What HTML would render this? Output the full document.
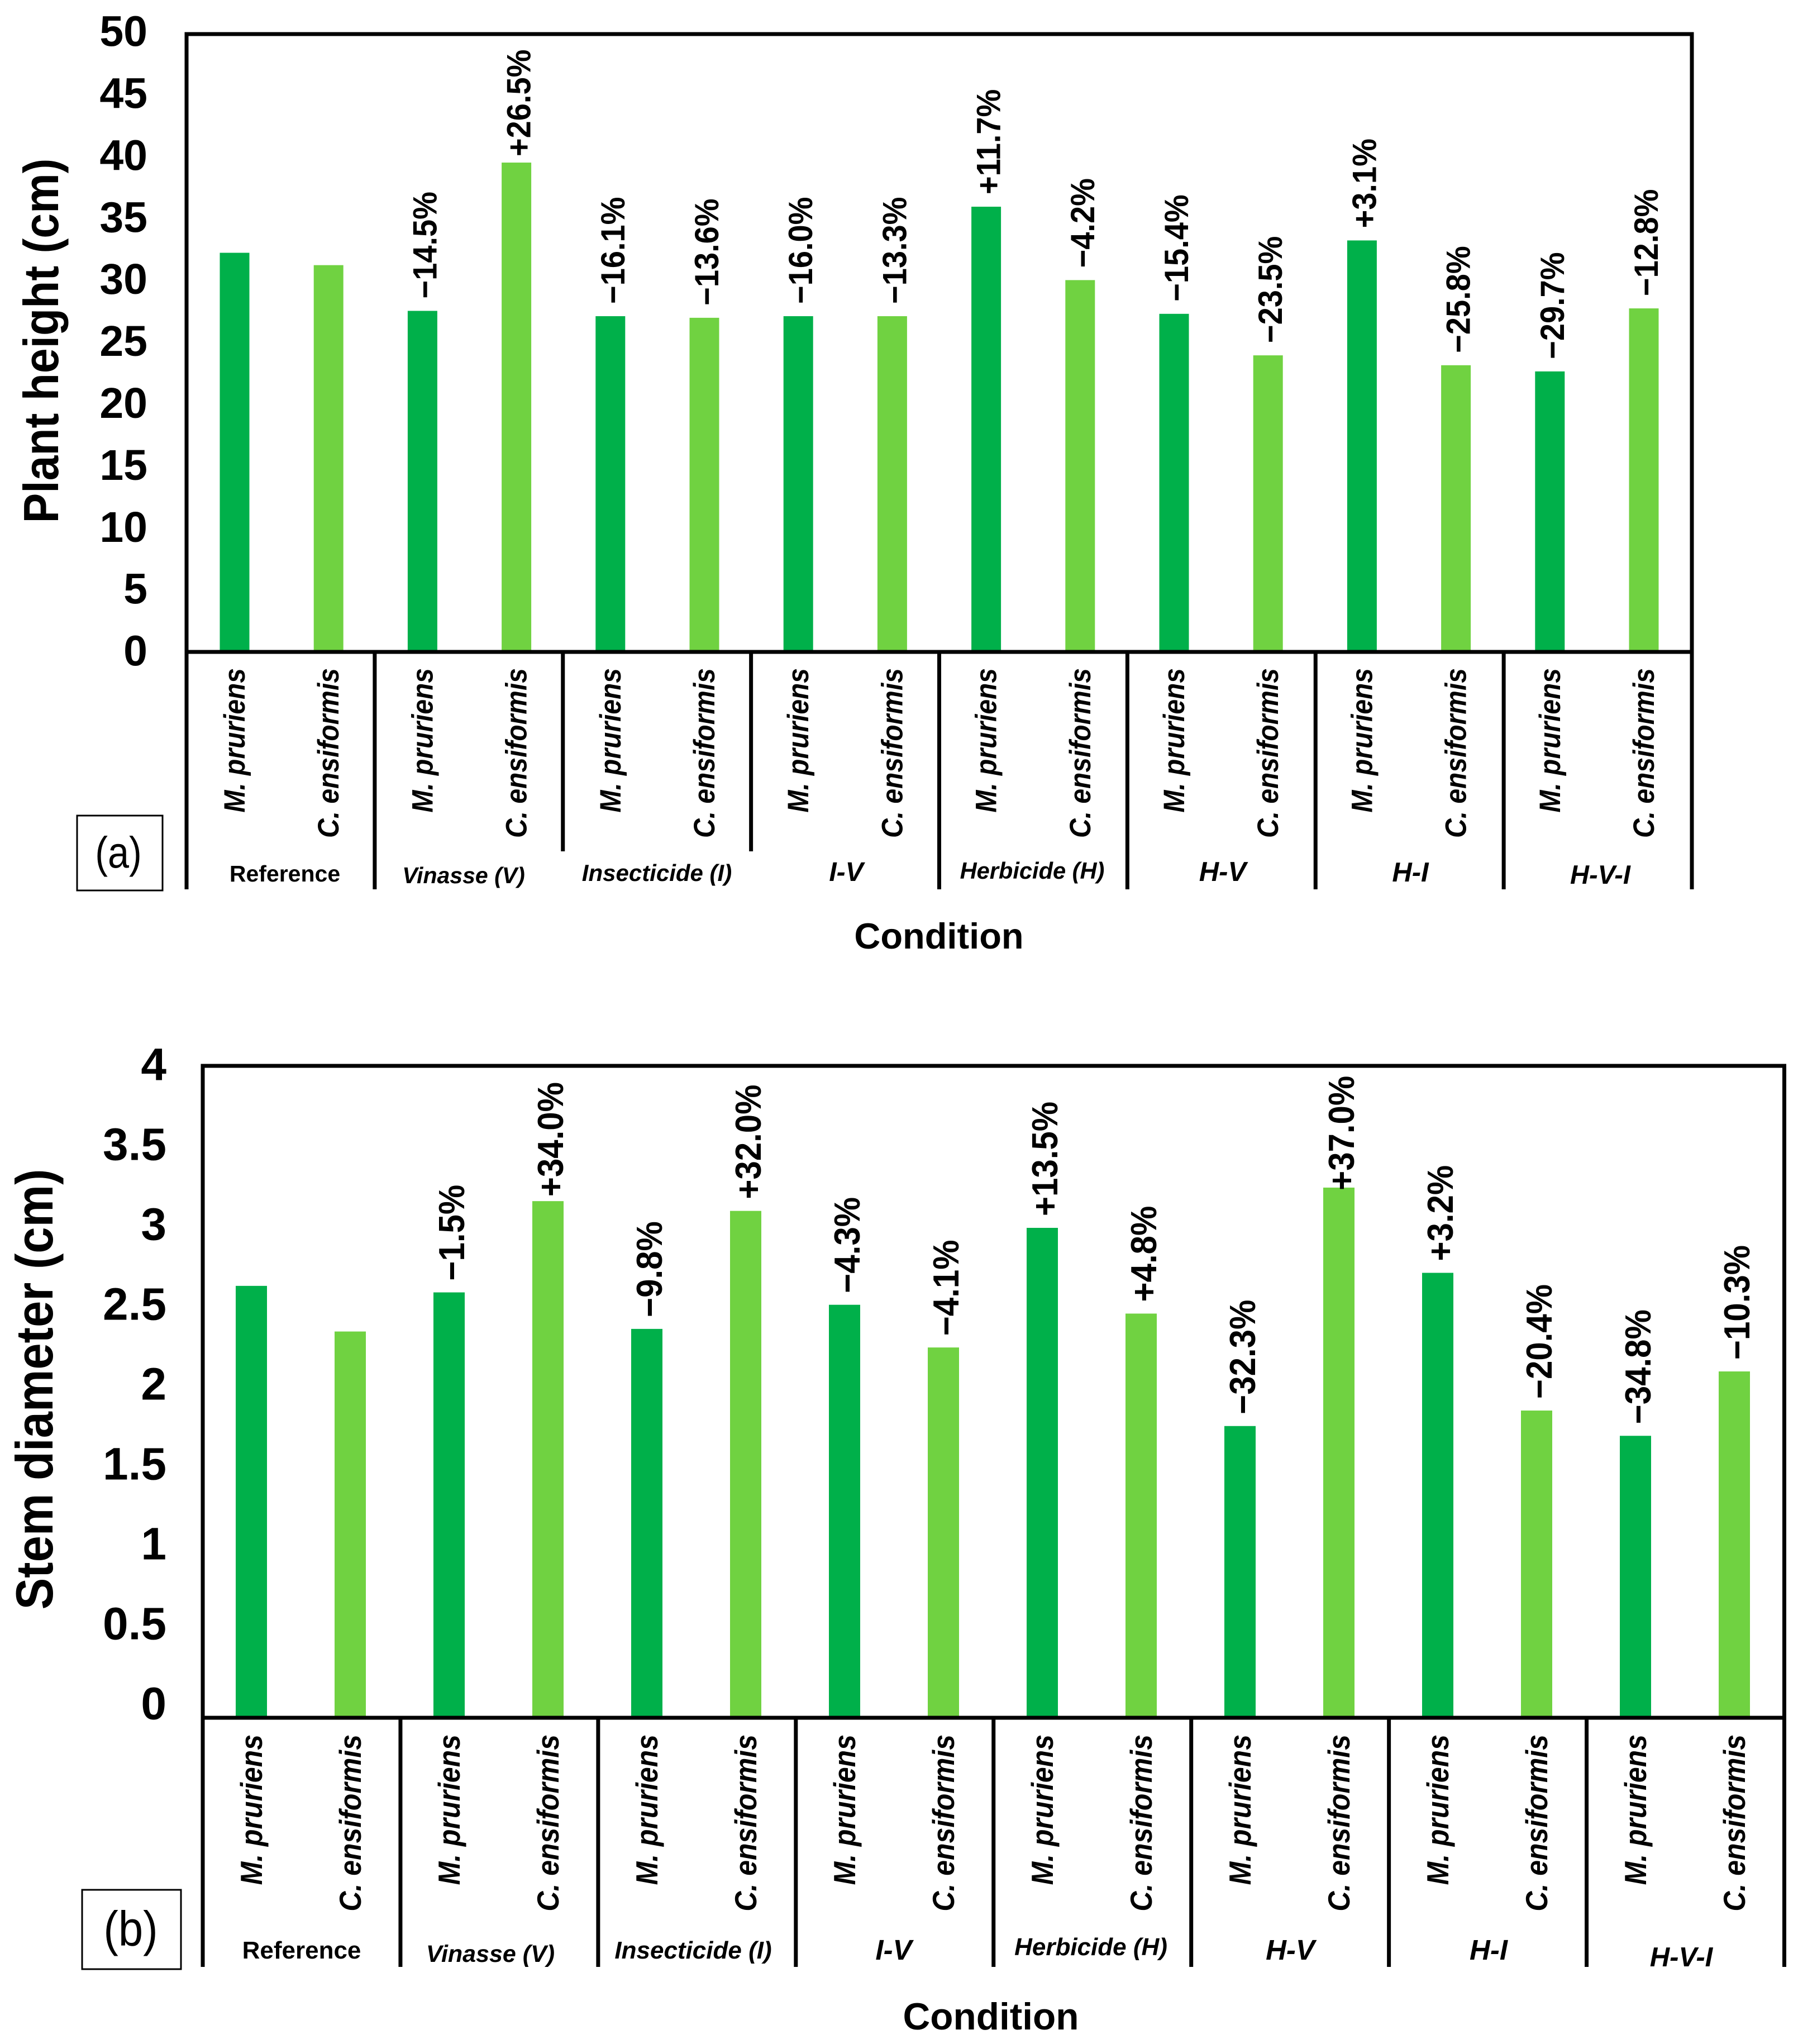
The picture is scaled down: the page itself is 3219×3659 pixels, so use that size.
<!DOCTYPE html>
<html lang="en">
<head>
<meta charset="utf-8">
<title>Plant height and stem diameter by condition</title>
<style>
html,body{margin:0;padding:0;background:#fff;}
svg{display:block;font-family:"Liberation Sans",Arial,sans-serif;}
text{fill:#000;}
.b{font-weight:700;}
.bi{font-weight:700;font-style:italic;}
</style>
</head>
<body>
<svg id="figure" xmlns="http://www.w3.org/2000/svg" width="3219" height="3659" viewBox="0 0 3219 3659">
  <rect x="0" y="0" width="3219" height="3659" fill="#fff"/>
  <g id="chart-a"></g>
  <g id="chart-b"></g>

  <text class="b" font-size="80.5" transform="translate(104,610) rotate(-90) scale(1,1.1)" text-anchor="middle">Plant height (cm)</text>
  <text class="b" font-size="85" transform="translate(94,2487) rotate(-90) scale(1,1.1)" text-anchor="middle">Stem diameter (cm)</text>

  <text class="b" font-size="65" x="1681" y="1698" text-anchor="middle">Condition</text>
  <text class="b" font-size="67.5" x="1774" y="3633" text-anchor="middle">Condition</text>

  <g>
    <text class="b" font-size="41" x="510" y="1578" text-anchor="middle">Reference</text>
    <text class="bi" font-size="41" x="830" y="1581" text-anchor="middle">Vinasse (V)</text>
    <text class="bi" font-size="42" x="1176" y="1577" text-anchor="middle">Insecticide (I)</text>
    <text class="bi" font-size="48" x="1515" y="1577" text-anchor="middle">I-V</text>
    <text class="bi" font-size="41.6" x="1848" y="1573" text-anchor="middle">Herbicide (H)</text>
    <text class="bi" font-size="49" x="2189" y="1577" text-anchor="middle">H-V</text>
    <text class="bi" font-size="49" x="2525" y="1578" text-anchor="middle">H-I</text>
    <text class="bi" font-size="47" x="2865" y="1582" text-anchor="middle">H-V-I</text>
  </g>
  <g>
    <text class="b" font-size="44" x="540" y="3506" text-anchor="middle">Reference</text>
    <text class="bi" font-size="43" x="878" y="3512" text-anchor="middle">Vinasse (V)</text>
    <text class="bi" font-size="44" x="1241" y="3506" text-anchor="middle">Insecticide (I)</text>
    <text class="bi" font-size="51" x="1600" y="3508" text-anchor="middle">I-V</text>
    <text class="bi" font-size="44" x="1953" y="3500" text-anchor="middle">Herbicide (H)</text>
    <text class="bi" font-size="51" x="2310" y="3508" text-anchor="middle">H-V</text>
    <text class="bi" font-size="51" x="2665" y="3508" text-anchor="middle">H-I</text>
    <text class="bi" font-size="49" x="3010" y="3520" text-anchor="middle">H-V-I</text>
  </g>

  <g>
    <rect x="138" y="1460" width="153" height="134" fill="#fff" stroke="#000" stroke-width="3"/>
    <text font-size="72" transform="translate(212,1553) scale(0.95,1.1)" text-anchor="middle">(a)</text>
  </g>
  <g>
    <rect x="147" y="3383" width="177" height="142" fill="#fff" stroke="#000" stroke-width="3"/>
    <text font-size="82" transform="translate(234,3483) scale(0.97,1.08)" text-anchor="middle">(b)</text>
  </g>
</svg>

<script>
// Shared categories
const species = ['M. pruriens', 'C. ensiformis'];

// Panel (a): plant height, cm
const heightTicks = ['0', '5', '10', '15', '20', '25', '30', '35', '40', '45', '50'];
const heightMucuna = [32.3, 27.6, 27.17, 27.17, 36.03, 27.36, 33.3, 22.7];
const heightCanavalia = [31.3, 39.6, 27.04, 27.17, 30.09, 24.0, 23.2, 27.8];
const heightMucunaPct = ['', '\u221214.5%', '\u221216.1%', '\u221216.0%', '+11.7%', '\u221215.4%', '+3.1%', '\u221229.7%'];
const heightCanavaliaPct = ['', '+26.5%', '\u221213.6%', '\u221213.3%', '\u22124.2%', '\u221223.5%', '\u221225.8%', '\u221212.8%'];

// Panel (b): stem diameter, cm
const diameterTicks = ['0', '0.5', '1', '1.5', '2', '2.5', '3', '3.5', '4'];
const diameterMucuna = [2.65, 2.61, 2.386, 2.534, 3.006, 1.79, 2.73, 1.73];
const diameterCanavalia = [2.37, 3.17, 3.11, 2.272, 2.48, 3.253, 1.885, 2.125];
const diameterMucunaPct = ['', '\u22121.5%', '\u22129.8%', '\u22124.3%', '+13.5%', '\u221232.3%', '+3.2%', '\u221234.8%'];
const diameterCanavaliaPct = ['', '+34.0%', '+32.0%', '\u22124.1%', '+4.8%', '+37.0%', '\u221220.4%', '\u221210.3%'];

const NS = 'http://www.w3.org/2000/svg';
const DARK = '#00B04A';
const LIGHT = '#70D241';

function make(parent, tag, attrs, content) {
  const el = document.createElementNS(NS, tag);
  Object.keys(attrs).forEach(function (k) { el.setAttribute(k, attrs[k]); });
  if (content !== undefined) el.textContent = content;
  parent.appendChild(el);
  return el;
}

function drawChart(root, cfg) {
  const slotX = function (g, s) { return cfg.firstBar + cfg.barStep * (2 * g + s); };
  const valueY = function (v) { return cfg.baseY - (v / cfg.yMax) * (cfg.baseY - cfg.topY); };
  const tickY = function (v) { return cfg.tickZero - (v / cfg.yMax) * (cfg.tickZero - cfg.tickTop); };
  const groupX = function (g) { return cfg.left + g * (cfg.right - cfg.left) / 8; };

  // Bars
  [cfg.mucuna, cfg.canavalia].forEach(function (series, s) {
    series.forEach(function (v, g) {
      const bar = make(root, 'rect', {
        x: slotX(g, s) - cfg.barW / 2,
        y: valueY(v),
        width: cfg.barW,
        height: cfg.baseY - valueY(v),
        fill: s === 0 ? DARK : LIGHT
      });
      
      
    });
  });

  // Frame
  const frame = make(root, 'rect', {
    x: cfg.left, y: cfg.topY, width: cfg.right - cfg.left, height: cfg.baseY - cfg.topY,
    fill: 'none', stroke: '#000', 'stroke-width': 7
  });
  
  

  // Group dividers
  for (let g = 0; g <= 8; g++) {
    const bottom = cfg.shortDividers.indexOf(g) >= 0 ? cfg.shortBottom : cfg.bottom;
    const divider = make(root, 'line', {
      x1: groupX(g), x2: groupX(g), y1: cfg.baseY, y2: bottom, stroke: '#000', 'stroke-width': 7
    });
    
    
  }

  // Y tick labels
  cfg.ticks.forEach(function (label) {
    const t = make(root, 'text', {
      x: cfg.tickRight,
      y: tickY(parseFloat(label)) + cfg.tickSize * 0.358,
      'text-anchor': 'end',
      'font-size': cfg.tickSize,
      'font-weight': 700
    }, label);
    
    
  });

  // Species labels
  for (let g = 0; g < 8; g++) {
    for (let s = 0; s < 2; s++) {
      const lx = slotX(g, s) + cfg.speciesOffset;
      const sp = make(root, 'text', {
        transform: 'translate(' + lx + ',' + cfg.speciesEnd + ') rotate(-90) scale(1,1.1)',
        'text-anchor': 'end',
        'font-size': cfg.speciesSize,
        'font-weight': 700,
        'font-style': 'italic'
      }, species[s]);
      
      
    }
  }

  // Percent labels above bars
  [[cfg.mucuna, cfg.mucunaPct], [cfg.canavalia, cfg.canavaliaPct]].forEach(function (pair, s) {
    pair[1].forEach(function (label, g) {
      if (!label) return;
      const idx = 2 * g + s;
      const gap = cfg.gapExceptions[idx] !== undefined ? cfg.gapExceptions[idx] : cfg.labelGap;
      const px = slotX(g, s) + cfg.pctOffset;
      const py = valueY(pair[0][g]) - gap;
      const t = make(root, 'text', {
        transform: 'translate(' + px + ',' + py + ') rotate(-90) scale(1,1.08)',
        'font-size': cfg.pctSize,
        'font-weight': 700
      }, label);
      
      
    });
  });
}

drawChart(document.getElementById('chart-a'), {
  left: 334, right: 3029, topY: 61, baseY: 1167, bottom: 1592, shortBottom: 1524, shortDividers: [2, 3],
  yMax: 50, firstBar: 420, barStep: 168.2, barW: 53,
  ticks: heightTicks, tickZero: 1164, tickTop: 55, tickRight: 264, tickSize: 77,
  mucuna: heightMucuna, canavalia: heightCanavalia,
  mucunaPct: heightMucunaPct, canavaliaPct: heightCanavaliaPct,
  speciesOffset: 18, speciesEnd: 1196, speciesSize: 48,
  pctOffset: 25, pctSize: 56, labelGap: 22, gapExceptions: { 3: 11 }
});

drawChart(document.getElementById('chart-b'), {
  left: 363, right: 3194.5, topY: 1908, baseY: 3075, bottom: 3521, shortBottom: 3521, shortDividers: [],
  yMax: 4, firstBar: 450, barStep: 177, barW: 56,
  ticks: diameterTicks, tickZero: 3048, tickTop: 1904, tickRight: 298, tickSize: 82,
  mucuna: diameterMucuna, canavalia: diameterCanavalia,
  mucunaPct: diameterMucunaPct, canavaliaPct: diameterCanavaliaPct,
  speciesOffset: 19, speciesEnd: 3105, speciesSize: 50,
  pctOffset: 27, pctSize: 60, labelGap: 21, gapExceptions: { 3: 8, 11: -5 }
});
</script>
</body>
</html>
